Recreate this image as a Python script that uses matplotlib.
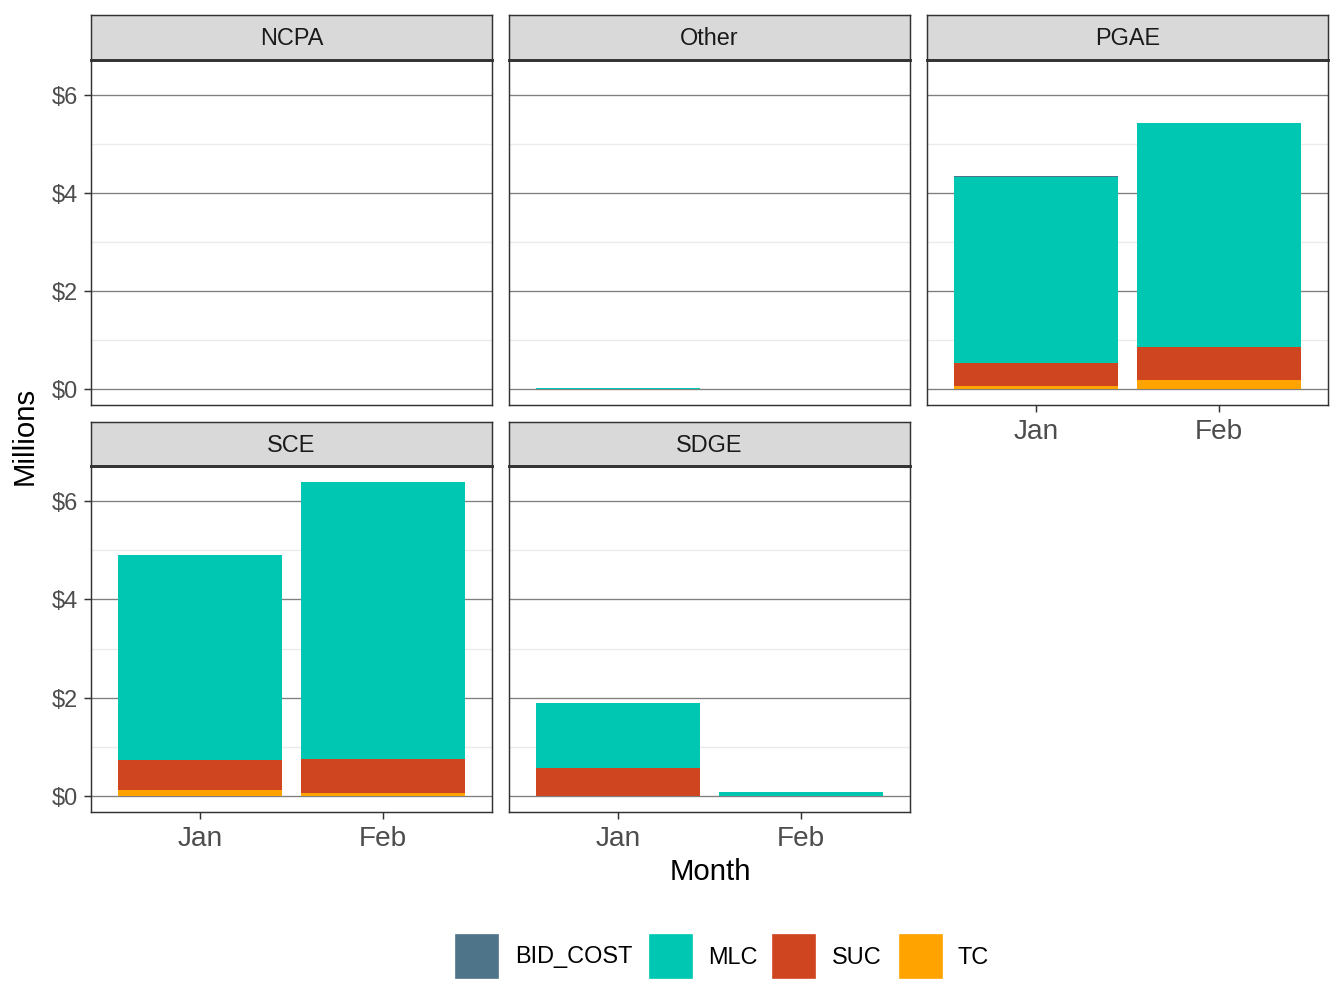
import matplotlib
matplotlib.use("Agg")
import matplotlib.pyplot as plt
import numpy as np
from matplotlib.patches import Rectangle

plt.rcParams['font.family'] = ['Liberation Sans', 'DejaVu Sans']

# data (millions)
months = ["Jan", "Feb"]
regions = ["NCPA", "Other", "PGAE", "SCE", "SDGE"]
components = ["BID_COST", "MLC", "SUC", "TC"]
colors = {"BID_COST": "#4E7489", "MLC": "#00C7B2", "SUC": "#CF4520", "TC": "#FFA300"}

tc = {"NCPA": [0, 0], "Other": [0, 0], "PGAE": [0.067, 0.20],
      "SCE": [0.12, 0.06], "SDGE": [0.01, 0.0]}
suc = {"NCPA": [0, 0], "Other": [0, 0], "PGAE": [0.473, 0.66],
       "SCE": [0.61, 0.69], "SDGE": [0.56, 0.01]}
mlc = {"NCPA": [0, 0], "Other": [0.02, 0], "PGAE": [3.78, 4.56],
       "SCE": [4.18, 5.64], "SDGE": [1.32, 0.07]}
bid_cost = {"NCPA": [0, 0], "Other": [0, 0], "PGAE": [0.035, 0],
            "SCE": [0, 0], "SDGE": [0, 0]}

W, H = 1344, 1008
fig = plt.figure(figsize=(7, 5.25), dpi=192)


def box(x0, y0, x1, y1):
    return [x0 / W, 1 - y1 / H, (x1 - x0) / W, (y1 - y0) / H]


cols = [(91, 492), (509, 910), (927, 1328)]
rows = [(15, 60, 405), (422, 466, 812)]

totals = [tc[r][i] + suc[r][i] + mlc[r][i] + bid_cost[r][i] for r in regions for i in range(2)]
ymax = max(totals)
ylim = (-0.05 * ymax, 1.05 * ymax)

x = np.arange(1, len(months) + 1)
dark = "#333333"

for k, reg in enumerate(regions):
    r, c = divmod(k, 3)
    sy0, py0, py1 = rows[r]
    px0, px1 = cols[c]
    ax = fig.add_axes(box(px0, py0, px1, py1))
    ax.set_xlim(0.4, 2.6)
    ax.set_ylim(*ylim)
    for v in [1, 3, 5]:
        ax.axhline(v, color="#EBEBEB", lw=0.5, zorder=0)
    for v in [0, 2, 4, 6]:
        ax.axhline(v, color="#7F7F7F", lw=0.5, zorder=0.5)
    bottom = np.zeros(2)
    for comp, data in [("TC", tc), ("SUC", suc), ("MLC", mlc), ("BID_COST", bid_cost)]:
        vals = np.array(data[reg], dtype=float)
        ax.bar(x, vals, width=0.9, bottom=bottom, color=colors[comp], lw=0, zorder=2)
        bottom += vals
    for s in ax.spines.values():
        s.set_color(dark)
        s.set_linewidth(0.55)
    ax.set_yticks([0, 2, 4, 6])
    ax.tick_params(length=2.75, width=0.55, color=dark, labelcolor="#4D4D4D", pad=2)
    ax.tick_params(axis="y", labelsize=8.8)
    ax.tick_params(axis="x", labelsize=10.5, pad=2.5)
    if c == 0:
        ax.set_yticklabels(["$0", "$2", "$4", "$6"])
    else:
        ax.tick_params(axis="y", length=0, labelleft=False)
    ax.set_xticks(x)
    if r == 1 or reg == "PGAE":
        ax.set_xticklabels(months)
    else:
        ax.tick_params(axis="x", length=0, labelbottom=False)

    # strip
    sax = fig.add_axes(box(px0, sy0, px1, py0))
    sax.set_xticks([])
    sax.set_yticks([])
    sax.set_facecolor("#D9D9D9")
    for s in sax.spines.values():
        s.set_color(dark)
        s.set_linewidth(0.55)
    sax.spines["bottom"].set_linewidth(1.1)
    sax.text(0.5, 0.47, reg, ha="center", va="center", fontsize=8.8,
             color="#1A1A1A", transform=sax.transAxes)

fig.text(25 / W, 1 - 436 / H, "Millions", rotation=90, ha="center", va="center",
         fontsize=11, color="black")
fig.text(710 / W, 1 - 872 / H, "Month", ha="center", va="center",
         fontsize=11, color="black")

# legend
key_x = [456, 650, 773, 900]
lab_x = [515, 708, 832, 958]
for comp, kx, lx in zip(components, key_x, lab_x):
    fig.patches.append(Rectangle((kx / W, 1 - 977 / H), 41 / W, 42 / H,
                                 transform=fig.transFigure, color=colors[comp]))
    fig.text(lx / W, 1 - 957 / H, comp, ha="left", va="center", fontsize=8.8,
             color="black")

fig.savefig("out.png", dpi=192)
